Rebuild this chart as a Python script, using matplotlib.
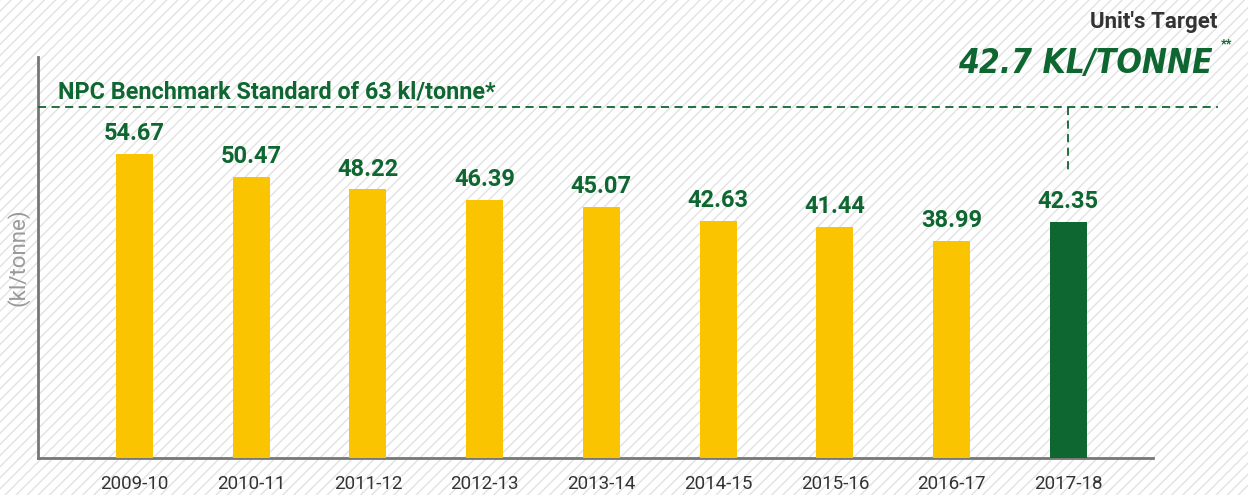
import matplotlib
matplotlib.use('Agg')
import matplotlib.pyplot as plt
from matplotlib.patches import Rectangle

plt.rcParams['font.family'] = ['Roboto', 'DejaVu Sans']
plt.rcParams['hatch.linewidth'] = 1.0

# specific water consumption, kl/tonne
years = ['2009-10', '2010-11', '2011-12', '2012-13', '2013-14',
         '2014-15', '2015-16', '2016-17', '2017-18']
values = [54.67, 50.47, 48.22, 46.39, 45.07, 42.63, 41.44, 38.99, 42.35]
benchmark = 63
target = 42.7

green = '#0e6630'
yellow = '#fbc400'
grey = '#777777'

fig = plt.figure(figsize=(12.48, 4.95), dpi=100)
# striped background
fig.patches.append(Rectangle((0, 0), 1, 1, transform=fig.transFigure,
                             facecolor='white', edgecolor='#e2e2e2',
                             hatch='///', lw=0, zorder=-10))

ax = fig.add_axes([0.0304, 0.0747, 0.8934, 0.8101])
ax.patch.set_alpha(0)

x = list(range(len(years)))
colors = [yellow] * (len(years) - 1) + [green]
ax.bar(x, values, width=0.317, color=colors, zorder=3)

for xi, v in zip(x, values):
    ax.annotate(f'{v:.2f}', (xi, v), xytext=(0, 10), textcoords='offset points',
                ha='center', va='baseline', fontsize=17, fontweight='bold',
                color=green)

ax.set_xlim(-0.827, 8.724)
ax.set_ylim(0, 72)

# benchmark line, carried past the axes edge
ax.plot([-0.827, 9.28], [benchmark, benchmark], color=green, lw=1.3,
        ls=(0, (4.5, 3)), clip_on=False, zorder=4)
ax.annotate(f'NPC Benchmark Standard of {benchmark} kl/tonne*',
            xy=(0.018, benchmark), xycoords=('axes fraction', 'data'),
            xytext=(0, 6), textcoords='offset points', ha='left',
            va='baseline', fontsize=16.8, fontweight='bold', color=green)

# drop line from the target down to the last bar label
ax.plot([x[-1], x[-1]], [benchmark, values[-1] + 9], color=green, lw=1.3,
        ls=(0, (4.5, 3)), clip_on=False, zorder=4)

fig.text(0.9755, 0.944, "Unit's Target", ha='right', va='baseline',
         fontsize=16, fontweight='bold', color='#333333')
fig.text(0.972, 0.853, f'{target} KL/TONNE', ha='right', va='baseline',
         fontsize=24, fontweight='bold', fontstyle='oblique',
         fontstretch='condensed', family='DejaVu Sans', color=green)
fig.text(0.978, 0.905, '**', ha='left', va='baseline', fontsize=9,
         fontweight='bold', color=green)

for side in ['top', 'right']:
    ax.spines[side].set_visible(False)
for side in ['left', 'bottom']:
    ax.spines[side].set_color(grey)
    ax.spines[side].set_linewidth(2)
ax.set_yticks([])
ax.set_xticks(x)
ax.set_xticklabels(years, fontsize=13.5, color='#333333')
ax.tick_params(axis='x', length=0, pad=12)
ax.set_ylabel('(kl/tonne)', fontsize=16, color='#9a9a9a', labelpad=6)

fig.savefig('out.png', dpi=100)
